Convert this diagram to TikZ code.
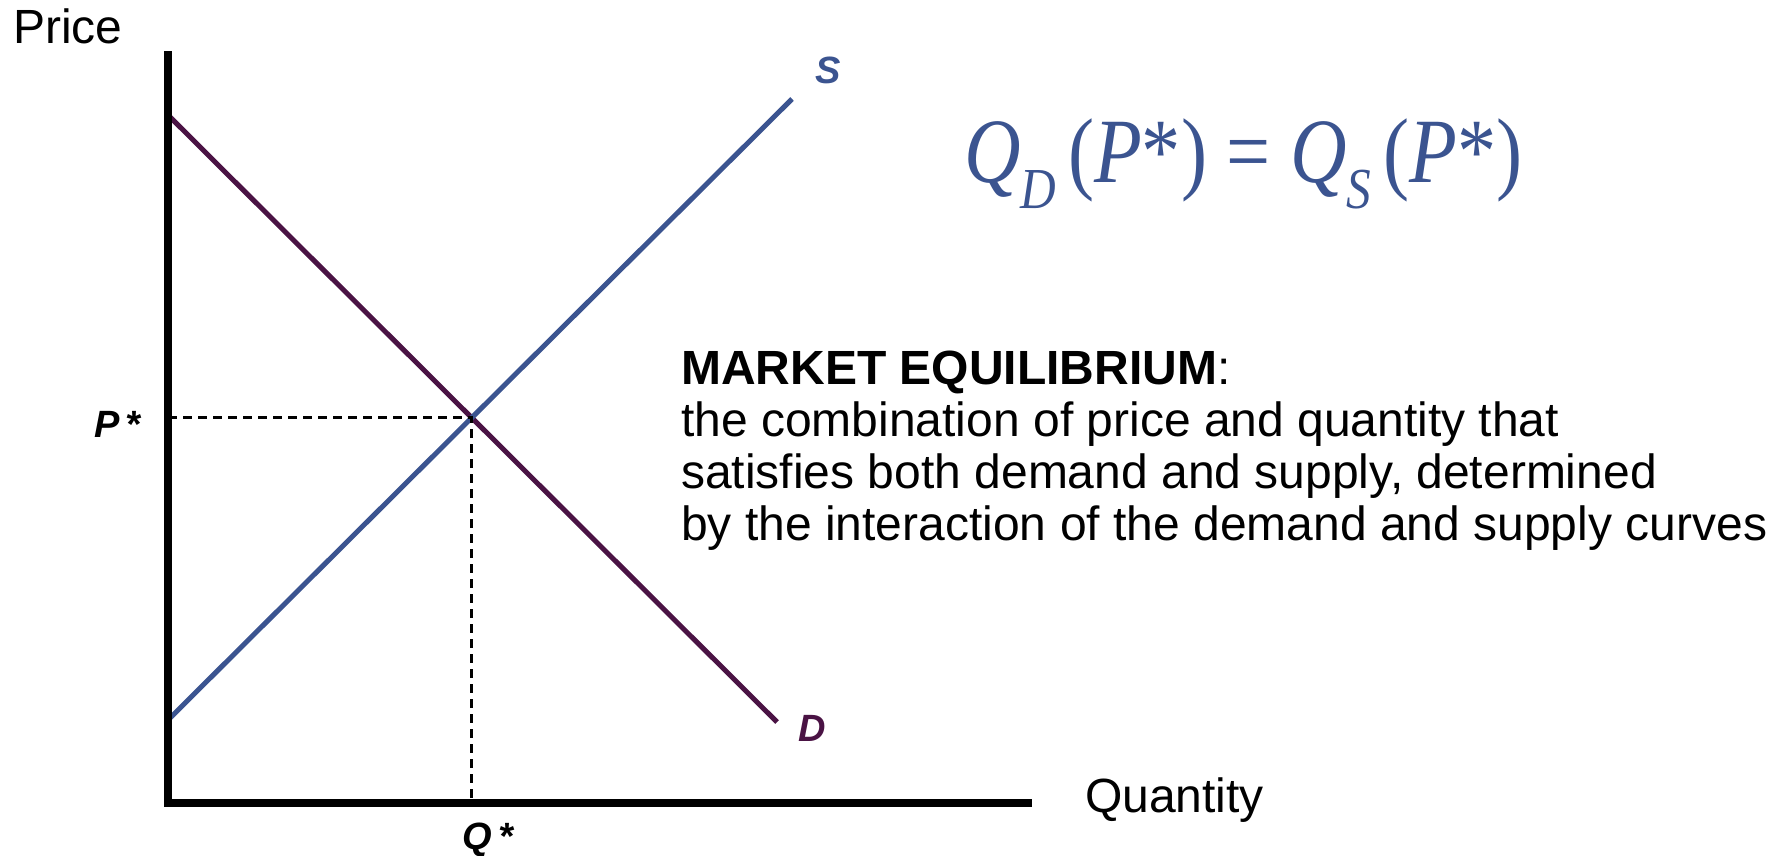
\documentclass[tikz,border=0pt]{standalone}
\usepackage{fontspec}
\setmainfont{Liberation Sans}
\newfontfamily\timesfont{Liberation Serif}
\definecolor{supblue}{HTML}{3B5490}
\definecolor{dempurple}{HTML}{4A1344}
\newcommand{\fsize}[1]{\fontsize{#1}{#1}\selectfont}

\begin{document}
\begin{tikzpicture}[x=1pt,y=-1pt,
    lbl/.style={anchor=base west,inner sep=0pt},
    curve/.style={line width=5pt},
    guide/.style={line width=2.5pt,dash pattern=on 9pt off 6pt},
    tag/.style={lbl,font=\fsize{38}\bfseries\itshape}]
    \useasboundingbox (0,0) rectangle (1772,855);
    \coordinate (top) at (168,51);
    \coordinate (O) at (168,803);
    \coordinate (right) at (1032,803);
    % demand and supply
    \coordinate (d1) at (169,116);
    \coordinate (d2) at (777,722);
    \coordinate (s1) at (169,719);
    \coordinate (s2) at (792,99);
    \draw[curve,dempurple] (d1)--(d2);
    \draw[curve,supblue] (s1)--(s2);
    \coordinate (eq) at (intersection of d1--d2 and s1--s2);
    \draw[guide] (O |- eq)--(eq)--(eq |- O);
    % axes
    \draw[line width=8pt,line join=miter] (top)--(O)--(right);
    \node[lbl,font=\fsize{48}] (price) at (13,43) {Price};
    \node[lbl,font=\fsize{48}] (qty) at (1085,812) {Quantity};
    \node[tag] (pstar) at (94,437) {P\,*};
    \node[tag] (qstar) at (462,849) {Q\,*};
    \node[tag,text=supblue] (slab) at (815,83) {S};
    \node[tag,text=dempurple] (dlab) at (798,741) {D};
    % formula and definition
    \node[lbl,text=supblue] (eqn) at (964,182) {\timesfont\resizebox{558pt}{\height}{\fsize{92}\itshape Q\raisebox{-26pt}{\fsize{58}D}\hspace{0.15em}\upshape(\itshape P\upshape*)\hspace{0.25em}=\hspace{0.25em}\itshape Q\raisebox{-26pt}{\fsize{58}S}\hspace{0.15em}\upshape(\itshape P\upshape*)}};
    \node[lbl,align=left,font={\fontsize{48}{52}\selectfont}] (note) at (681,540) {\textbf{MARKET EQUILIBRIUM}:\\the combination of price and quantity that\\satisfies both demand and supply, determined\\by the interaction of the demand and supply curves};
\end{tikzpicture}
\end{document}
